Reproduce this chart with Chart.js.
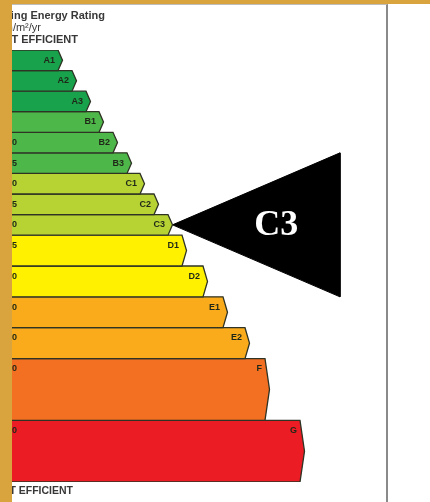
<!DOCTYPE html>
<html>
<head>
<meta charset="utf-8">
<script src="https://cdn.jsdelivr.net/npm/chart.js@4.4.1/dist/chart.umd.min.js"></script>
<style>
    html, body { margin: 0; padding: 0; background: #fff; }
    body { width: 430px; height: 502px; position: relative; overflow: hidden; font-family: "Liberation Sans", Arial, sans-serif; }
    .panel { position: absolute; left: 12px; top: 4px; width: 374px; height: 498px; border-top: 1px solid #bdbdbd; border-right: 2px solid #8a8a8a; }
    .gold-left { position: absolute; left: 0; top: 0; width: 12px; height: 502px; background: #d9a43d; z-index: 5; }
    .gold-top { position: absolute; left: 0; top: 0; width: 430px; height: 4px; background: #d9a43d; z-index: 5; }
    #wrap { position: absolute; left: 0; top: 0; width: 430px; height: 502px; z-index: 2; }
    .cap { position: absolute; white-space: nowrap; color: #383838; font-weight: bold; z-index: 3; }
</style>
</head>
<body>
<div class="panel"></div>
<div class="cap" style="right:325px; top:9px; font-size:11px;">Building Energy Rating</div>
<div class="cap" style="right:389px; top:21px; font-size:11px; font-weight:normal;">kWh/m²/yr</div>
<div class="cap" style="right:352px; top:33px; font-size:11px;">MOST EFFICIENT</div>
<div class="cap" style="right:357px; top:484px; font-size:10.5px;">LEAST EFFICIENT</div>
<div id="wrap"><canvas id="berChart"></canvas></div>
<div class="gold-left"></div>
<div class="gold-top"></div>
<script>
document.addEventListener('DOMContentLoaded', () => {
    const grades = ['A1', 'A2', 'A3', 'B1', 'B2', 'B3', 'C1', 'C2', 'C3', 'D1', 'D2', 'E1', 'E2', 'F', 'G'];
    const lowerBounds = ['0', '25', '50', '75', '100', '125', '150', '175', '200', '225', '260', '300', '340', '380', '450'];
    const barLengths = [46, 60, 74, 87, 101, 115, 128, 142, 156, 170, 191, 211, 233, 253, 288];
    const rating = 'C3';

    // layout / style
    const rowUnits = { A: 1, B: 1, C: 1, D: 1.5, E: 1.5, F: 3, G: 3 };
    const bandColours = {
        A: '#17a24b', B: '#4eb749', C: '#b6d233', D: '#fff100',
        E: '#f9ab1b', F: '#f36f22', G: '#ec1c24'
    };
    const tipDepth = 4.5;
    const pointerEnd = 328;
    const pointerHalf = 3.5;

    // stack the rows
    const rowTop = [];
    let acc = 0;
    grades.forEach(g => {
        rowTop.push(acc);
        acc += rowUnits[g[0]];
    });
    const totalUnits = acc;

    const datasets = grades.map((g, i) => {
        const top = rowTop[i];
        const bottom = top + rowUnits[g[0]];
        const v = barLengths[i];
        return {
            label: g,
            data: [
                { x: -10, y: top },
                { x: v, y: top },
                { x: v + tipDepth, y: (top + bottom) / 2 },
                { x: v, y: bottom },
                { x: -10, y: bottom },
                { x: -10, y: top }
            ],
            showLine: true,
            fill: 'shape',
            backgroundColor: bandColours[g[0]],
            borderColor: '#2e3324',
            borderWidth: 1.3,
            borderJoinStyle: 'miter',
            pointRadius: 0,
            tension: 0
        };
    });

    const ri = grades.indexOf(rating);
    const rMid = rowTop[ri] + rowUnits[rating[0]] / 2;
    const rTip = barLengths[ri] + tipDepth;
    datasets.push({
        label: 'pointer',
        data: [
            { x: rTip, y: rMid },
            { x: pointerEnd, y: rMid - pointerHalf },
            { x: pointerEnd, y: rMid + pointerHalf },
            { x: rTip, y: rMid }
        ],
        showLine: true,
        fill: 'shape',
        backgroundColor: '#000',
        borderColor: '#000',
        borderWidth: 1,
        pointRadius: 0,
        tension: 0
    });

    const labelPlugin = {
        id: 'gradeLabels',
        afterDatasetsDraw(chart) {
            const { ctx, scales: { x, y } } = chart;
            ctx.save();
            ctx.font = 'bold 9px "Liberation Sans", Arial, sans-serif';
            ctx.textBaseline = 'middle';
            ctx.fillStyle = '#1f2818';
            grades.forEach((g, i) => {
                const ty = y.getPixelForValue(rowTop[i] + 0.5);
                ctx.textAlign = 'right';
                ctx.fillText(g, x.getPixelForValue(barLengths[i]) - 3, ty);
                // range figures sit mostly behind the gold edge
                ctx.textAlign = 'left';
                ctx.fillText(lowerBounds[i], x.getPixelForValue(0) - 10, ty);
            });
            ctx.fillStyle = '#fff';
            ctx.font = 'bold 36px "Liberation Serif", "DejaVu Serif", serif';
            ctx.textAlign = 'center';
            ctx.fillText(rating, x.getPixelForValue(rTip + (pointerEnd - rTip) * 0.62), y.getPixelForValue(rMid) + 1);
            ctx.restore();
        }
    };

    new Chart(document.getElementById('berChart'), {
        type: 'scatter',
        data: { datasets },
        options: {
            responsive: true,
            maintainAspectRatio: false,
            animation: false,
            layout: { padding: { left: 12, top: 50, right: 0, bottom: 20 } },
            plugins: { legend: { display: false }, tooltip: { enabled: false } },
            scales: {
                x: { type: 'linear', min: 0, max: 418, display: false },
                y: { type: 'linear', min: 0, max: totalUnits, reverse: true, display: false }
            }
        },
        plugins: [labelPlugin]
    });
});
</script>
</body>
</html>
